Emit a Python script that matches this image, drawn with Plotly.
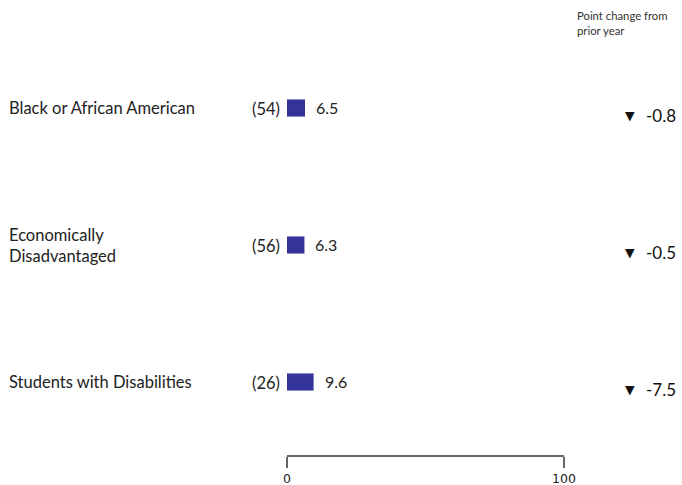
import plotly.graph_objects as go

categories = ["Black or African American", "Economically<br>Disadvantaged", "Students with Disabilities"]
values = [6.5, 6.3, 9.6]
counts = [54, 56, 26]
changes = [-0.8, -0.5, -7.5]
x_ticks = [0, 100]

W, H = 682, 485
L, R, T, B = 287, 118, 40, 30
plot_h = H - T - B
unit = 137.0
y_top = 2 + (108 - T) / unit
y_bot = y_top - plot_h / unit

order = list(reversed(categories))
FONT = "Lato, 'Open Sans', sans-serif"

fig = go.Figure()
fig.add_trace(go.Bar(
    x=values, y=categories, orientation="h",
    marker=dict(color="#333399", line=dict(width=0)),
    width=0.125, hoverinfo="skip",
))

ann = []
for cat, v, c, ch in zip(categories, values, counts, changes):
    ann.append(dict(x=-(L - 7) / (W - L - R), xref="paper", y=cat, yref="y",
                    text=cat, showarrow=False, xanchor="left", yanchor="middle",
                    align="left", font=dict(size=16.5, color="#222", family=FONT)))
    ann.append(dict(x=0, xref="x", y=cat, yref="y", text=f"({c})", showarrow=False,
                    xanchor="right", yanchor="middle", xshift=-5, yshift=-1,
                    font=dict(size=16.5, color="#222", family=FONT)))
    ann.append(dict(x=v, xref="x", y=cat, yref="y", text=f"{v}", showarrow=False,
                    xanchor="left", yanchor="middle", xshift=9, yshift=1,
                    font=dict(size=16, color="#222", family=FONT)))
    arrow = "▼" if ch < 0 else "▲"
    ann.append(dict(x=(623 - L) / (W - L - R), xref="paper", y=cat, yref="y",
                    text=arrow, showarrow=False, xanchor="left", yanchor="middle",
                    yshift=-7, font=dict(size=12.5, color="#111", family="DejaVu Sans")))
    ann.append(dict(x=(644 - L) / (W - L - R), xref="paper", y=cat, yref="y",
                    text=f"{ch}", showarrow=False, xanchor="left", yanchor="middle",
                    yshift=-7, font=dict(size=17, color="#111", family=FONT)))

ann.append(dict(x=(575 - L) / (W - L - R), xref="paper", y=1 + (T - 7) / plot_h, yref="paper",
                text="Point change from<br>prior year", showarrow=False, xanchor="left",
                yanchor="top", align="left", font=dict(size=11.3, color="#333", family=FONT)))

fig.update_layout(
    width=W, height=H,
    margin=dict(l=L, r=R, t=T, b=B, pad=0, autoexpand=False),
    paper_bgcolor="white", plot_bgcolor="white",
    showlegend=False, annotations=ann,
    xaxis=dict(range=[0, 100], tickvals=x_ticks, ticktext=[str(t) for t in x_ticks],
               showgrid=False, zeroline=False, showline=True, linecolor="#666", linewidth=2,
               ticks="outside", ticklen=11, tickwidth=2, tickcolor="#666", automargin=False,
               tickfont=dict(size=12.5, color="#222", family="DejaVu Sans"), fixedrange=True),
    yaxis=dict(type="category", categoryorder="array", categoryarray=order,
               range=[y_bot, y_top], showticklabels=False, showgrid=False, automargin=False,
               zeroline=False, showline=False, ticks="", fixedrange=True),
)

fig.write_html("out.html", config={"displayModeBar": False},
               post_script="document.body.style.margin='0px';document.body.style.overflow='hidden';")
